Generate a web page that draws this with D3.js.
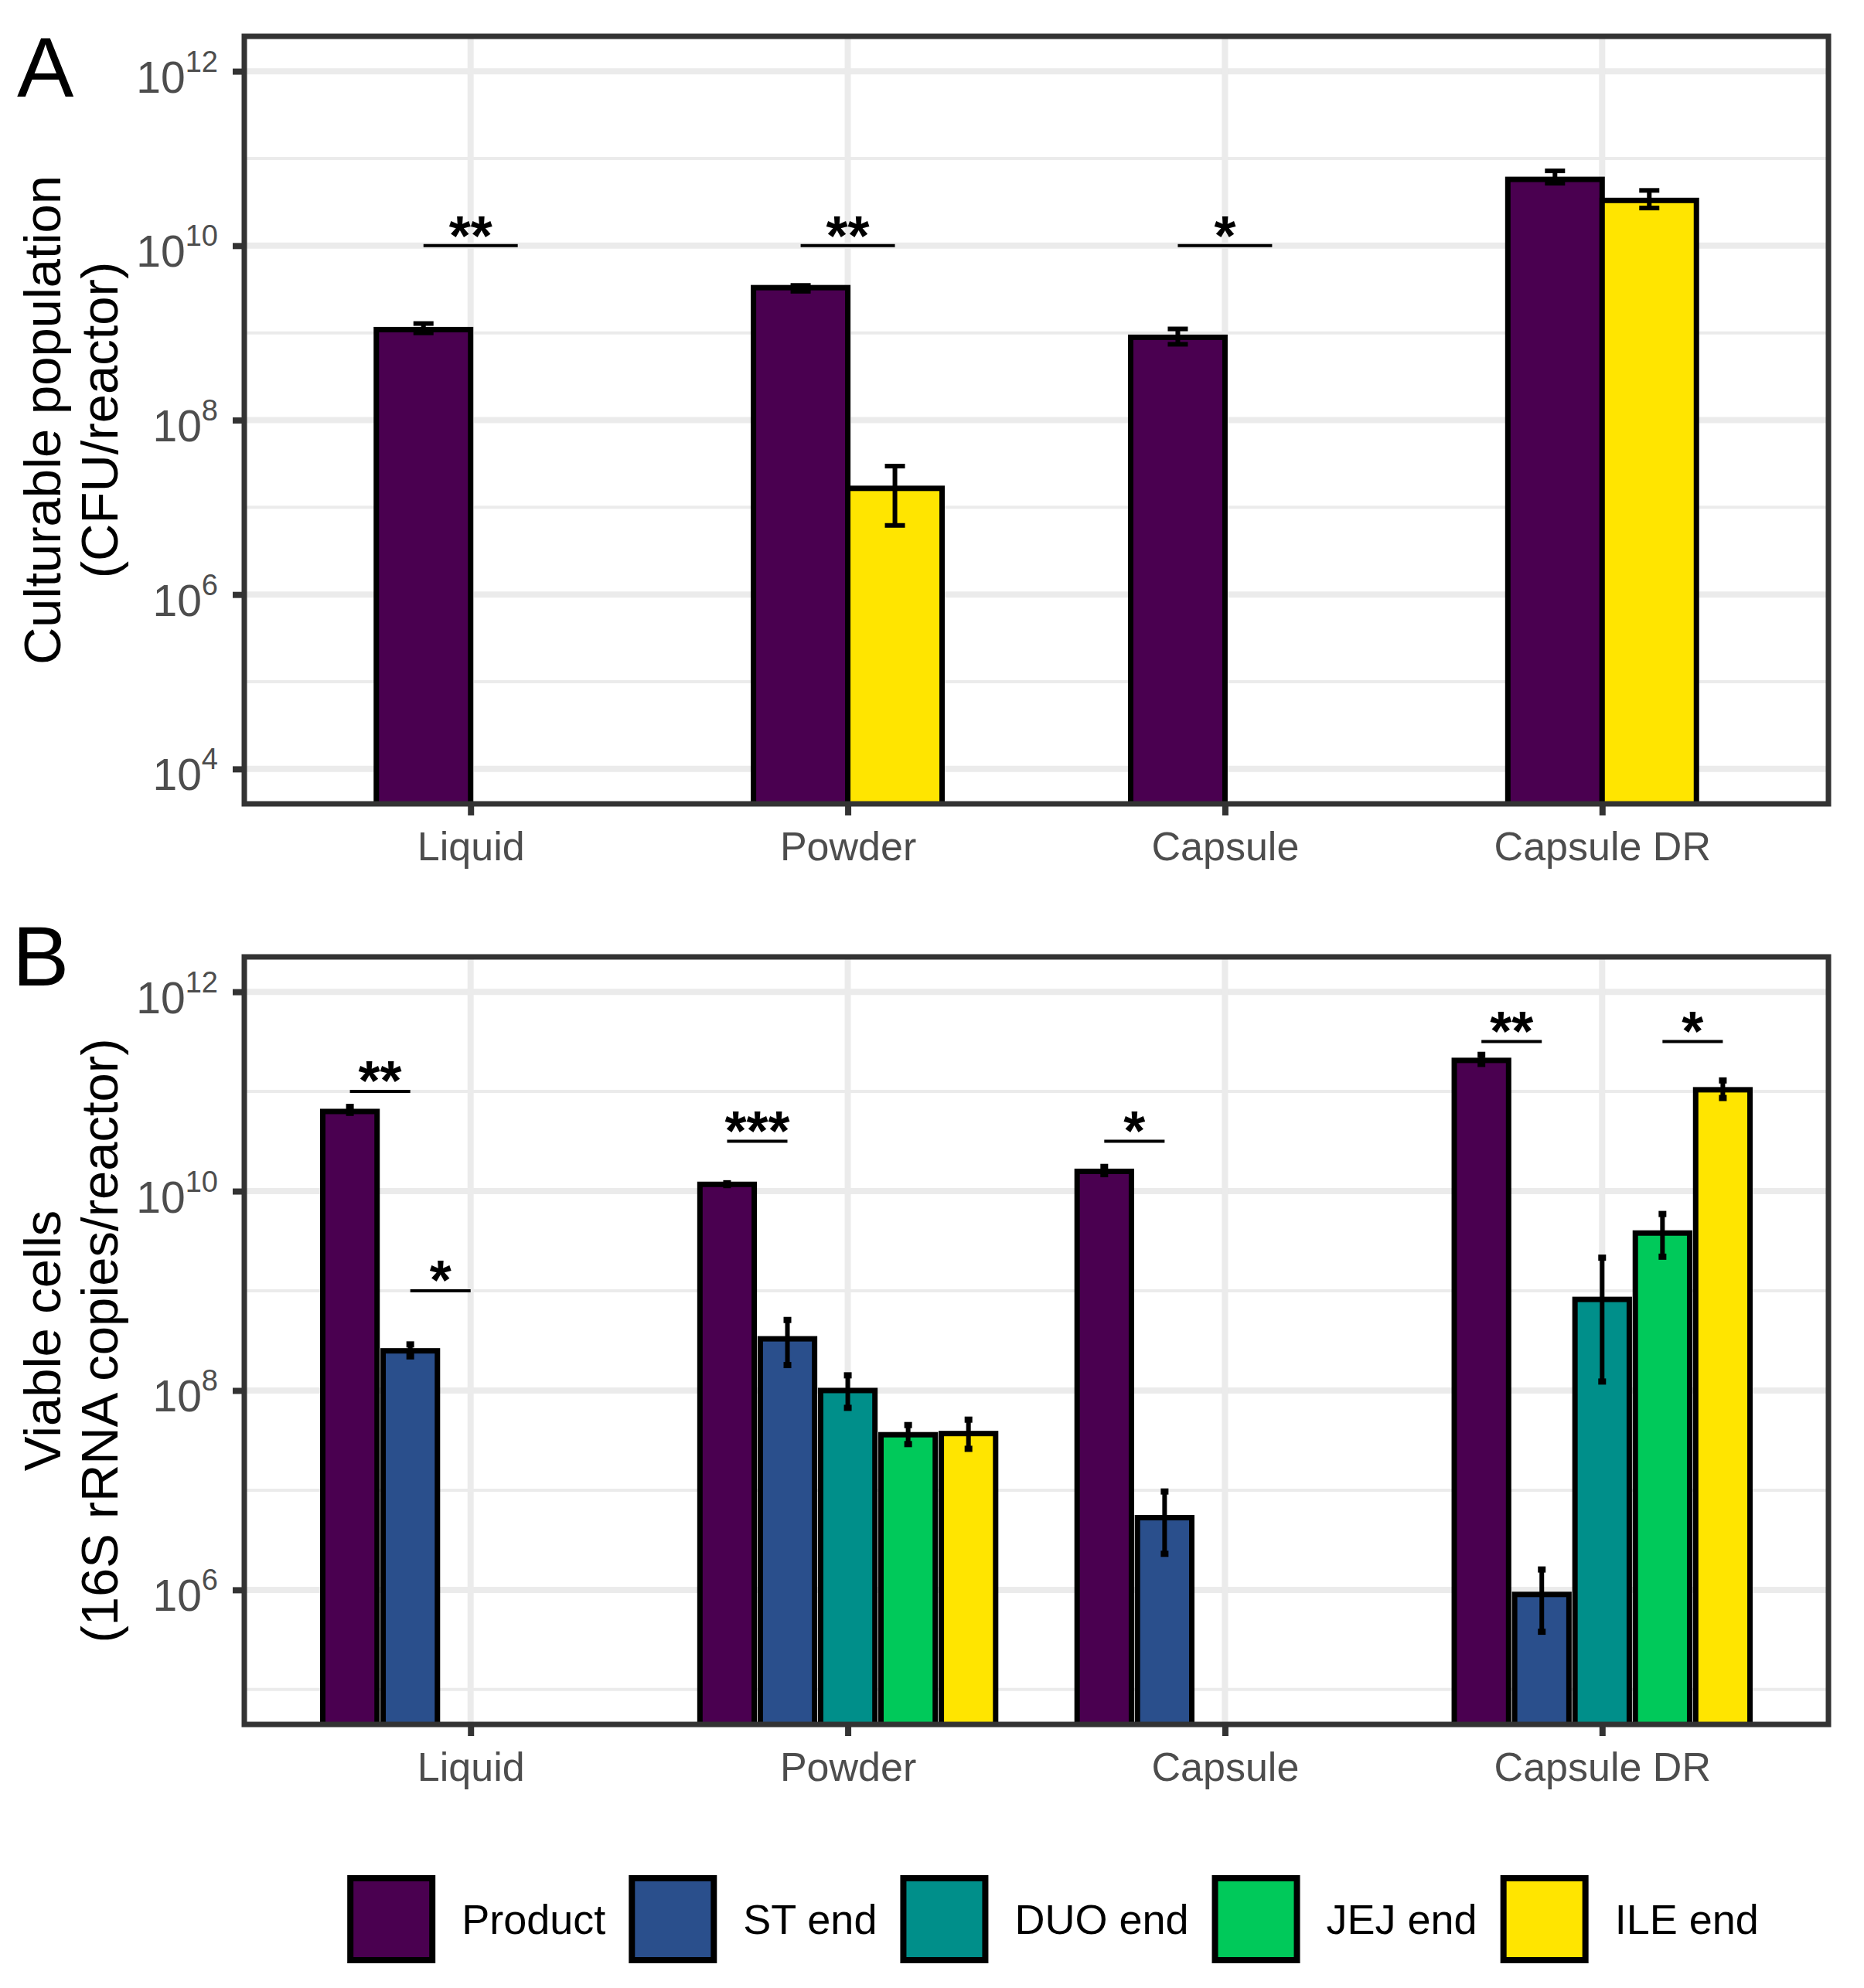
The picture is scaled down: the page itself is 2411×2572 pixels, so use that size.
<!DOCTYPE html>
<html>
<head>
<meta charset="utf-8">
<title>Culturable population and viable cells</title>
<script src="https://cdn.jsdelivr.net/npm/d3@7"></script>
<style>
  body { margin: 0; background: #fff; }
  svg { font-family: "Liberation Sans", Arial, Helvetica, sans-serif; display: block; }
</style>
</head>
<body>
<div id="chart"></div>
<script>
// ---- data ----
const categories = ["Liquid", "Powder", "Capsule", "Capsule DR"];
const seriesNames = ["Product", "ST end", "DUO end", "JEJ end", "ILE end"];
const seriesColors = ["#4A0050", "#2A4F8C", "#008F8A", "#00C95A", "#FFE500"];

// panel A: culturable population (CFU/reactor)
const seriesA = ["Product", "ILE end"];
const aProductMean = [1.09e9, 3.3e9, 8.9e8, 5.75e10];
const aProductLo   = [1.0e9, 3.0e9, 7.4e8, 5.2e10];
const aProductHi   = [1.28e9, 3.5e9, 1.11e9, 7.2e10];
const aIleMean = [null, 1.65e7, null, 3.3e10];
const aIleLo   = [null, 6.2e6, null, 2.7e10];
const aIleHi   = [null, 2.97e7, null, 4.3e10];

// panel B: viable cells (16S rRNA copies/reactor)
const bProductMean = [6.3e10, 1.17e10, 1.58e10, 2.05e11];
const bProductLo   = [6.1e10, 1.15e10, 1.48e10, 1.89e11];
const bProductHi   = [7.0e10, 1.2e10, 1.75e10, 2.33e11];
const bStMean = [2.5e8, 3.3e8, 5.3e6, 9.0e5];
const bStLo   = [2.2e8, 1.8e8, 2.3e6, 3.8e5];
const bStHi   = [2.9e8, 5.1e8, 9.7e6, 1.6e6];
const bDuoMean = [null, 1.0e8, null, 8.2e8];
const bDuoLo   = [null, 6.7e7, null, 1.23e8];
const bDuoHi   = [null, 1.42e8, null, 2.15e9];
const bJejMean = [null, 3.6e7, null, 3.8e9];
const bJejLo   = [null, 2.9e7, null, 2.2e9];
const bJejHi   = [null, 4.5e7, null, 5.9e9];
const bIleMean = [null, 3.7e7, null, 1.04e11];
const bIleLo   = [null, 2.6e7, null, 8.6e10];
const bIleHi   = [null, 5.1e7, null, 1.29e11];

// significance brackets: [category, from series, to series, y, label]
const sigA = [
  ["Liquid", "Product", "ILE end", 1e10, "**"],
  ["Powder", "Product", "ILE end", 1e10, "**"],
  ["Capsule", "Product", "ILE end", 1e10, "*"]
];
const sigB = [
  ["Liquid", "Product", "ST end", 1e11, "**"],
  ["Liquid", "ST end", "DUO end", 1e9, "*"],
  ["Powder", "Product", "ST end", Math.pow(10, 10.5), "***"],
  ["Capsule", "Product", "ST end", Math.pow(10, 10.5), "*"],
  ["Capsule DR", "Product", "ST end", Math.pow(10, 11.5), "**"],
  ["Capsule DR", "JEJ end", "ILE end", Math.pow(10, 11.5), "*"]
];

const ticksA = [1e4, 1e6, 1e8, 1e10, 1e12];
const minorA = [1e5, 1e7, 1e9, 1e11];
const ticksB = [1e6, 1e8, 1e10, 1e12];
const minorB = [1e5, 1e7, 1e9, 1e11];

function rows(series, means, los, his) {
  const out = [];
  series.forEach((s, j) => {
    categories.forEach((c, i) => {
      if (means[j][i] != null) out.push({ cat: c, series: s, mean: means[j][i], lo: los[j][i], hi: his[j][i] });
    });
  });
  return out;
}

const dataA = rows(seriesA,
  [aProductMean, aIleMean], [aProductLo, aIleLo], [aProductHi, aIleHi]);
const dataB = rows(seriesNames,
  [bProductMean, bStMean, bDuoMean, bJejMean, bIleMean],
  [bProductLo, bStLo, bDuoLo, bJejLo, bIleLo],
  [bProductHi, bStHi, bDuoHi, bJejHi, bIleHi]);

const color = d3.scaleOrdinal().domain(seriesNames).range(seriesColors);

// ---- layout ----
const W = 2411, H = 2572;
const left = 316, right = 2365;

const svg = d3.select("#chart").append("svg")
  .attr("width", W).attr("height", H)
  .attr("viewBox", [0, 0, W, H]);

function drawPanel(o) {
  const g = svg.append("g");
  const x = d3.scalePoint().domain(categories).range([left, right]).padding(0.6);
  const step = x.step();
  const inner = d3.scaleBand().domain(o.series)
    .range([-o.dodge * step / 2, o.dodge * step / 2]);
  const bw = inner.bandwidth();
  const barW = bw * o.barFrac;
  const y = d3.scaleLog().domain(o.domain).range([o.bottom, o.top]);

  const clipId = "clip" + o.letter;
  svg.append("clipPath").attr("id", clipId)
    .append("rect").attr("x", left).attr("y", o.top)
    .attr("width", right - left).attr("height", o.bottom - o.top);

  // grid
  const grid = g.append("g").attr("clip-path", `url(#${clipId})`);
  grid.selectAll(".minor").data(o.minor).join("line")
    .attr("x1", left).attr("x2", right)
    .attr("y1", d => y(d)).attr("y2", d => y(d))
    .attr("stroke", "#EBEBEB").attr("stroke-width", 4);
  grid.selectAll(".major").data(o.ticks).join("line")
    .attr("x1", left).attr("x2", right)
    .attr("y1", d => y(d)).attr("y2", d => y(d))
    .attr("stroke", "#EBEBEB").attr("stroke-width", 8);
  grid.selectAll(".vgrid").data(categories).join("line")
    .attr("x1", d => x(d)).attr("x2", d => x(d))
    .attr("y1", o.top).attr("y2", o.bottom)
    .attr("stroke", "#EBEBEB").attr("stroke-width", 8);

  // bars
  const marks = g.append("g").attr("clip-path", `url(#${clipId})`);
  const cx = d => x(d.cat) + inner(d.series) + bw / 2;
  marks.selectAll("rect").data(o.data).join("rect")
    .attr("x", d => cx(d) - barW / 2)
    .attr("width", barW)
    .attr("y", d => y(d.mean))
    .attr("height", d => o.bottom + 20 - y(d.mean))
    .attr("fill", d => color(d.series))
    .attr("stroke", "#000").attr("stroke-width", 7);

  // error bars
  const eb = marks.selectAll(".eb").data(o.data).join("g");
  eb.append("line")
    .attr("x1", cx).attr("x2", cx)
    .attr("y1", d => y(d.lo)).attr("y2", d => y(d.hi))
    .attr("stroke", "#000").attr("stroke-width", 6);
  eb.selectAll(".cap").data(d => [[d, d.lo], [d, d.hi]]).join("line")
    .attr("x1", d => cx(d[0]) - o.capW / 2).attr("x2", d => cx(d[0]) + o.capW / 2)
    .attr("y1", d => y(d[1])).attr("y2", d => y(d[1]))
    .attr("stroke", "#000").attr("stroke-width", o.capT);

  // significance
  const sg = g.append("g");
  o.sig.forEach(s => {
    const x1 = x(s[0]) + inner(s[1]) + bw / 2;
    const x2 = x(s[0]) + inner(s[2]) + bw / 2;
    const yy = y(s[3]);
    sg.append("line").attr("x1", x1).attr("x2", x2).attr("y1", yy).attr("y2", yy)
      .attr("stroke", "#000").attr("stroke-width", 4);
    sg.append("text").attr("x", (x1 + x2) / 2).attr("y", yy + o.starDy)
      .attr("text-anchor", "middle").attr("font-size", 72)
      .attr("font-weight", "bold").attr("fill", "#000")
      .text(s[4]);
  });

  // axes
  const yAxis = g.append("g").attr("transform", `translate(${left},0)`)
    .call(d3.axisLeft(y).tickValues(o.ticks).tickSize(15).tickFormat(""));
  yAxis.select(".domain").remove();
  yAxis.selectAll(".tick line").attr("stroke", "#333333").attr("stroke-width", 8);
  yAxis.selectAll(".tick").append("text")
    .attr("x", -34).attr("y", 27)
    .attr("text-anchor", "end").attr("fill", "#4D4D4D").attr("font-size", 57)
    .each(function (d) {
      const t = d3.select(this);
      t.append("tspan").text("10");
      t.append("tspan").attr("dy", -27).attr("font-size", 38).text(Math.round(Math.log10(d)));
    });

  const xAxis = g.append("g").attr("transform", `translate(0,${o.bottom})`)
    .call(d3.axisBottom(x).tickSize(15));
  xAxis.select(".domain").remove();
  xAxis.selectAll(".tick line").attr("stroke", "#333333").attr("stroke-width", 8);
  xAxis.selectAll(".tick text")
    .attr("y", 73).attr("dy", null)
    .attr("fill", "#4D4D4D").attr("font-size", 52)
    .attr("font-family", "Liberation Sans, Arial, sans-serif");

  // panel border
  g.append("rect").attr("x", left).attr("y", o.top)
    .attr("width", right - left).attr("height", o.bottom - o.top)
    .attr("fill", "none").attr("stroke", "#333333").attr("stroke-width", 7);

  // y title
  const mid = (o.top + o.bottom) / 2;
  o.title.forEach((line, i) => {
    g.append("text")
      .attr("transform", `translate(${78 + i * 74},${mid}) rotate(-90)`)
      .attr("text-anchor", "middle").attr("font-size", 67).attr("fill", "#000")
      .text(line);
  });

  // panel letter
  g.append("text").attr("x", o.letterX).attr("y", o.letterY)
    .attr("font-size", 110).attr("fill", "#000").text(o.letter);
}

drawPanel({
  letter: "A", letterX: 22, letterY: 125,
  top: 47, bottom: 1040,
  domain: [Math.pow(10, 3.6), Math.pow(10, 12.4)],
  ticks: ticksA, minor: minorA,
  series: seriesA, data: dataA,
  dodge: 0.5, barFrac: 1.0, capW: 26, capT: 6,
  sig: sigA, starDy: 12,
  title: ["Culturable population", "(CFU/reactor)"]
});

drawPanel({
  letter: "B", letterX: 16, letterY: 1275,
  top: 1238, bottom: 2231,
  domain: [Math.pow(10, 4.65), Math.pow(10, 12.35)],
  ticks: ticksB, minor: minorB,
  series: seriesNames, data: dataB,
  dodge: 0.8, barFrac: 0.9, capW: 10, capT: 8,
  sig: sigB, starDy: 11,
  title: ["Viable cells", "(16S rRNA copies/reactor)"]
});

// ---- legend ----
const legend = svg.append("g");
const keySize = 114, keyGap = 34, itemGap = 30, legendMidY = 2483;
let cursor = 0;
seriesNames.forEach(name => {
  const it = legend.append("g");
  it.append("rect").attr("x", 4).attr("y", -keySize / 2 + 4)
    .attr("width", keySize - 8).attr("height", keySize - 8)
    .attr("fill", color(name)).attr("stroke", "#000").attr("stroke-width", 8);
  const t = it.append("text").attr("x", keySize + keyGap).attr("y", 19)
    .attr("font-size", 54).attr("fill", "#000").text(name);
  const w = keySize + keyGap + t.node().getComputedTextLength();
  it.attr("transform", `translate(${cursor},0)`);
  cursor += w + itemGap;
});
const totalW = cursor - itemGap;
legend.attr("transform", `translate(${1362 - totalW / 2},${legendMidY})`);
</script>
</body>
</html>
